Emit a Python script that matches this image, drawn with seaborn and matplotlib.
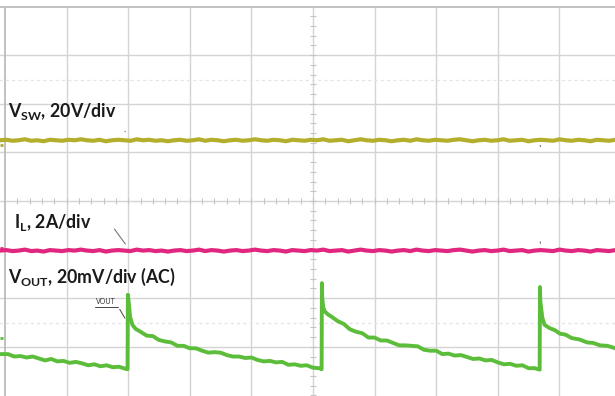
import numpy as np
import pandas as pd
import matplotlib
matplotlib.use("Agg")
import matplotlib.pyplot as plt
import seaborn as sns

# scope screen, units are divisions (10 x 8 grid, centre = 5, 0)
vsw_level = [1.25, 1.26, 1.24, 1.25, 1.27, 1.24, 1.25, 1.23, 1.26, 1.25,
             1.24, 1.26, 1.25, 1.27, 1.25, 1.24, 1.26, 1.23, 1.25, 1.26,
             1.25, 1.24, 1.27, 1.25, 1.26, 1.24, 1.25, 1.23, 1.25, 1.26,
             1.24, 1.25, 1.27, 1.24, 1.26, 1.25, 1.23, 1.25, 1.26, 1.24,
             1.25, 1.27, 1.25, 1.24, 1.26, 1.25, 1.23, 1.26, 1.25, 1.24,
             1.26, 1.25, 1.27, 1.24, 1.25, 1.26, 1.23, 1.25, 1.27, 1.25,
             1.24, 1.26, 1.25, 1.23, 1.25, 1.26, 1.24, 1.27, 1.25, 1.24,
             1.26, 1.25, 1.24, 1.26, 1.27, 1.25, 1.23, 1.25, 1.26, 1.24,
             1.25, 1.27, 1.24, 1.25, 1.26, 1.23, 1.25, 1.26, 1.25, 1.24,
             1.27, 1.25, 1.24, 1.26, 1.25, 1.23, 1.26, 1.25, 1.24, 1.26]
il_level = [-1.02, -1.01, -1.03, -1.02, -1.00, -1.03, -1.02, -1.04, -1.01, -1.02,
            -1.03, -1.01, -1.02, -1.00, -1.02, -1.03, -1.01, -1.04, -1.02, -1.01,
            -1.02, -1.03, -1.00, -1.02, -1.01, -1.03, -1.02, -1.04, -1.02, -1.01,
            -1.03, -1.02, -1.00, -1.03, -1.01, -1.02, -1.04, -1.02, -1.01, -1.03,
            -1.02, -1.00, -1.02, -1.03, -1.01, -1.02, -1.04, -1.01, -1.02, -1.03,
            -1.01, -1.02, -1.00, -1.03, -1.02, -1.01, -1.04, -1.02, -1.00, -1.02,
            -1.03, -1.01, -1.02, -1.04, -1.02, -1.01, -1.03, -1.00, -1.02, -1.03,
            -1.01, -1.02, -1.03, -1.01, -1.00, -1.02, -1.04, -1.02, -1.01, -1.03,
            -1.02, -1.00, -1.03, -1.02, -1.01, -1.04, -1.02, -1.01, -1.02, -1.03,
            -1.00, -1.02, -1.03, -1.01, -1.02, -1.04, -1.01, -1.02, -1.03, -1.01]

vout_t = [-0.08, 0.05, 0.15, 0.25, 0.35, 0.45, 0.55, 0.65, 0.75, 0.85, 0.95, 1.05,
          1.15, 1.25, 1.35, 1.45, 1.55, 1.65, 1.75, 1.85, 1.95, 1.985,
          1.990, 1.995, 2.01, 2.03, 2.07, 2.12, 2.2, 2.3, 2.4, 2.5, 2.6, 2.7,
          2.8, 2.9, 3.0, 3.1, 3.2, 3.3, 3.4, 3.5, 3.6, 3.7, 3.8, 3.9, 4.0, 4.1,
          4.2, 4.3, 4.4, 4.5, 4.6, 4.7, 4.8, 4.9, 5.0, 5.1, 5.14,
          5.145, 5.15, 5.165, 5.19, 5.24, 5.3, 5.4, 5.5, 5.6, 5.7, 5.8, 5.9,
          6.0, 6.1, 6.2, 6.3, 6.4, 6.5, 6.6, 6.7, 6.8, 6.9, 7.0, 7.1, 7.2, 7.3,
          7.4, 7.5, 7.6, 7.7, 7.8, 7.9, 8.0, 8.1, 8.2, 8.3, 8.4, 8.5, 8.6, 8.68,
          8.685, 8.69, 8.705, 8.725, 8.76, 8.85, 8.93, 9.01, 9.1, 9.2, 9.33, 9.45,
          9.55, 9.66, 9.78, 9.91]
vout_v = [-3.15, -3.15, -3.20, -3.19, -3.22, -3.20, -3.24, -3.28, -3.25, -3.30, -3.29, -3.33,
          -3.31, -3.34, -3.38, -3.36, -3.40, -3.38, -3.42, -3.41, -3.45, -3.46,
          -3.46, -1.93, -2.10, -2.38, -2.55, -2.63, -2.69, -2.77, -2.78, -2.86, -2.89, -2.91,
          -2.98, -2.98, -3.03, -3.03, -3.08, -3.12, -3.11, -3.12, -3.17, -3.20, -3.20, -3.23,
          -3.22, -3.27, -3.30, -3.29, -3.32, -3.31, -3.37, -3.36, -3.39, -3.38, -3.43, -3.44,
          -3.46, -1.69, -1.98, -2.18, -2.27, -2.33, -2.38, -2.47, -2.53, -2.64, -2.69, -2.72,
          -2.81, -2.81, -2.87, -2.87, -2.92, -2.97, -2.97, -2.98, -2.99, -3.06, -3.08, -3.08,
          -3.15, -3.14, -3.18, -3.17, -3.21, -3.25, -3.24, -3.28, -3.27, -3.32, -3.36, -3.35,
          -3.39, -3.38, -3.44, -3.44, -3.47, -1.77, -2.05, -2.22, -2.41, -2.55, -2.62, -2.66,
          -2.73, -2.75, -2.82, -2.85, -2.91, -2.92, -2.97, -2.98, -3.03]

labels = [r"$\mathbf{V_{SW}}$, 20V/div", r"$\mathbf{I_{L}}$, 2A/div",
          r"$\mathbf{V_{OUT}}$, 20mV/div (AC)"]
label_x = [0.05, 0.15, 0.05]
label_y = [1.73, -0.56, -1.69]

# channel ground markers on the left edge
marker_y = [1.15, -0.97, -2.82]
marker_c = ["#b3ae2c", "#e0267e", "#5cbd3a"]

sns.set_theme(style="white")
plt.rcParams["font.family"] = ["Lato", "DejaVu Sans"]
plt.rcParams["mathtext.fontset"] = "custom"
plt.rcParams["mathtext.rm"] = "Lato"
plt.rcParams["mathtext.bf"] = "Lato:bold"

fig = plt.figure(figsize=(6.15, 3.96), dpi=100)
ax = fig.add_axes([0, 0, 1, 1])
ax.set_xlim(-0.081, 9.903)
ax.set_ylim(-4.012, 4.136)
ax.axis("off")

# graticule
grid_c = "#d4d4d4"
ax.vlines(np.arange(1, 10), -4.1, 4.0, color=grid_c, lw=1.0, zorder=1)
ax.hlines(np.arange(-3, 4), -0.1, 10, color=grid_c, lw=1.0, zorder=1)
ax.vlines([0], -4.1, 4.0, color="#bcbcbc", lw=1.3, zorder=1)
ax.hlines([4], -0.1, 10, color="#bcbcbc", lw=1.3, zorder=1)
ax.hlines([2.5, -2.5], -0.1, 10, color="#e4e4e4", lw=0.9,
          linestyles=(0, (2.5, 2.5)), zorder=1)
tk = np.arange(-4, 4.01, 0.2)
ax.hlines(tk, 4.95, 5.05, color="#c4c4c4", lw=0.8, zorder=1)
tk = np.arange(0, 10.01, 0.2)
ax.vlines(tk, -0.06, 0.06, color="#c4c4c4", lw=0.8, zorder=1)

# traces
t_flat = np.linspace(-0.08, 9.91, len(vsw_level))
df = pd.DataFrame({"t": t_flat, "vsw": vsw_level, "il": il_level})
sns.lineplot(data=df, x="t", y="vsw", estimator=None, color="#b3ae2c",
             lw=3.0, ax=ax, zorder=3)
sns.lineplot(data=df, x="t", y="il", estimator=None, color="#e0267e",
             lw=3.0, ax=ax, zorder=3)
dv = pd.DataFrame({"t": vout_t, "v": vout_v})
sns.lineplot(data=dv, x="t", y="v", estimator=None, sort=False, color="#5cbd3a",
             lw=2.8, ax=ax, zorder=3)

ax.hlines(marker_y, -0.081, -0.035, colors=marker_c, lw=2.0, zorder=4)

# channel labels
for s, x, y in zip(labels, label_x, label_y):
    ax.text(x, y, s, fontsize=12.8, fontweight="bold", color="#1a1a1a",
            va="baseline", ha="left", zorder=5)

# scope leader marks
ax.annotate("", xy=(1.98, 1.38), xytext=(1.92, 1.48),
            arrowprops=dict(arrowstyle="-", color="#777777", lw=0.8))
ax.annotate("", xy=(1.98, -0.93), xytext=(1.75, -0.53),
            arrowprops=dict(arrowstyle="-", color="#777777", lw=0.8))
ax.text(1.48, -2.07, "VOUT", fontsize=5, color="#333333", va="center", ha="left")
ax.plot([1.46, 1.84], [-2.18, -2.18], color="#444444", lw=0.7)
ax.annotate("", xy=(1.97, -2.46), xytext=(1.84, -2.18),
            arrowprops=dict(arrowstyle="-", color="#444444", lw=0.7))
ax.annotate("", xy=(8.69, -0.93), xytext=(8.69, -0.78),
            arrowprops=dict(arrowstyle="-", color="#666666", lw=0.7))
ax.annotate("", xy=(8.69, 1.12), xytext=(8.69, 1.20),
            arrowprops=dict(arrowstyle="-", color="#555555", lw=0.7))

plt.savefig("out.png", dpi=100)
